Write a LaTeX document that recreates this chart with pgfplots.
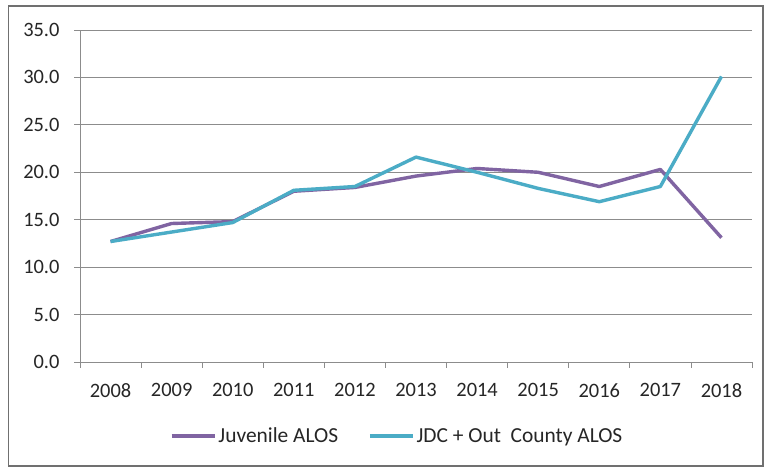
\documentclass[border=0pt]{standalone}
\usepackage{fontspec}
\setmainfont{Carlito}
\usepackage{pgfplots}
\pgfplotsset{compat=1.18}
\definecolor{juvpurple}{HTML}{8064A2}
\definecolor{jdcteal}{HTML}{4BACC6}
\definecolor{gridgray}{HTML}{8C8C8C}
\definecolor{framegray}{HTML}{707070}
\begin{document}
\begin{tikzpicture}[x=1bp,y=1bp]
\fill[white] (0,0) rectangle (765,468);
\draw[framegray, line width=1.2bp] (8.5,2) rectangle (763,462);
\begin{axis}[
  at={(80bp,106bp)}, anchor=south west,
  scale only axis, width=672bp, height=332bp,
  xmin=-0.5, xmax=10.5, ymin=0, ymax=35,
  xtick={0,...,10},
  xticklabels={2008,2009,2010,2011,2012,2013,2014,2015,2016,2017,2018},
  minor xtick={-0.5,0.5,...,10.5},
  ytick={0,5,...,35},
  major x tick style={draw=none},
  minor tick length=6bp, major tick length=6bp,
  tick align=outside,
  tick style={gridgray, line width=0.8bp},
  axis x line*=bottom, axis y line*=left,
  axis line style={gridgray, line width=0.8bp, -},
  ymajorgrids, grid style={gridgray, line width=0.8bp},
  y tick label style={/pgf/number format/fixed, /pgf/number format/fixed zerofill, /pgf/number format/precision=1},
  /pgf/number format/assume math mode=true,
  ticklabel style={font=\fontsize{20.5}{24}\selectfont, text=black!85},
  xticklabel style={yshift=-12bp},
  yticklabel style={xshift=-11bp},
  legend columns=2,
  legend cell align=left,
  legend style={draw=none, fill=none, at={(0.472,-0.223)}, anchor=center,
    font=\fontsize{21.5}{24}\selectfont, text=black!85,
    nodes={inner sep=2bp},
    /tikz/every even column/.append style={column sep=28bp}},
  legend image code/.code={\draw[#1, line width=3.4bp] (0bp,0bp) -- (43bp,0bp);},
  clip=false,
]
\addplot[juvpurple, line width=3.4bp, line join=round] coordinates {
  (0,12.7) (1,14.6) (2,14.8) (3,18.0) (4,18.4) (5,19.6) (6,20.4) (7,20.0) (8,18.5) (9,20.3) (10,13.1)};
\addlegendentry{Juvenile ALOS}
\addplot[jdcteal, line width=3.4bp, line join=round] coordinates {
  (0,12.7) (1,13.7) (2,14.7) (3,18.1) (4,18.5) (5,21.6) (6,20.0) (7,18.3) (8,16.9) (9,18.5) (10,30.1)};
\addlegendentry{JDC + Out\ \ County ALOS}
\end{axis}
\end{tikzpicture}
\end{document}
